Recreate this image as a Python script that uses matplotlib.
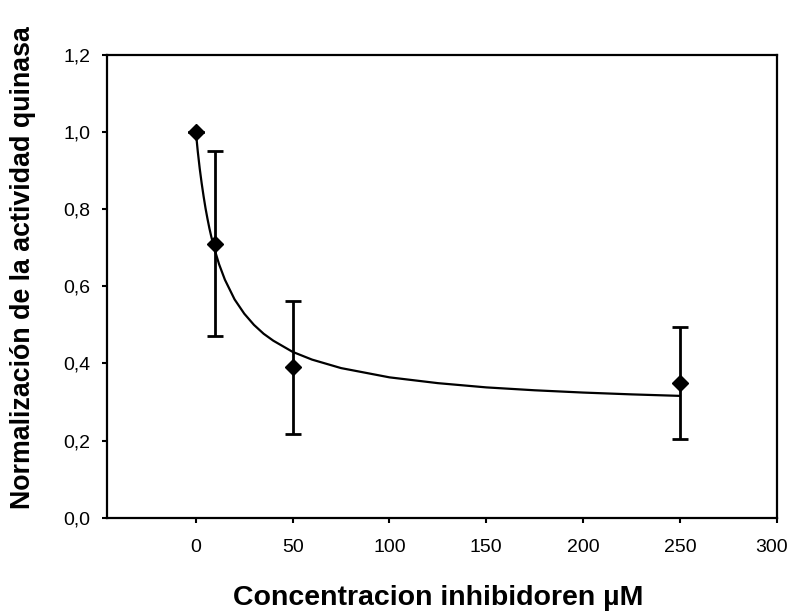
import matplotlib.pyplot as plt
import matplotlib.transforms as mtransforms
from matplotlib.ticker import FuncFormatter

plt.rcParams['font.family'] = ['Liberation Sans', 'DejaVu Sans']

# measured points (concentration in uM)
conc = [0, 10, 50, 250]
activity = [1.0, 0.71, 0.39, 0.35]
error = [0.0, 0.24, 0.172, 0.145]

# fitted curve
curve_x = [0, 1, 2, 3, 4, 5, 6, 7, 8, 10, 12, 15, 20, 25, 30, 35, 40, 50, 60,
           75, 100, 125, 150, 175, 200, 225, 250]
curve_y = [1.0, 0.949, 0.905, 0.867, 0.833, 0.802, 0.775, 0.750, 0.728, 0.69,
           0.657, 0.617, 0.566, 0.529, 0.50, 0.477, 0.459, 0.43, 0.41, 0.388,
           0.364, 0.349, 0.338, 0.3305, 0.3246, 0.3199, 0.316]

xticks = [0, 50, 100, 150, 200, 250, 300]
yticks = [0.0, 0.2, 0.4, 0.6, 0.8, 1.0, 1.2]

fig = plt.figure(figsize=(7.91, 6.15), dpi=100)
ax = fig.add_axes([0.135, 0.158, 0.847, 0.753])

ax.plot(curve_x, curve_y, color='black', lw=1.6, zorder=2)
ax.errorbar(conc, activity, yerr=error, fmt='D', color='black', ms=8,
            ecolor='black', elinewidth=2, capsize=6, capthick=2, zorder=3)

ax.set_xlim(-46, 300)
ax.set_ylim(0, 1.2)
ax.set_xticks(xticks)
ax.set_yticks(yticks)
ax.yaxis.set_major_formatter(FuncFormatter(lambda v, p: f"{v:.1f}".replace('.', ',')))
ax.tick_params(direction='out', length=3.5, width=1.5, labelsize=14)
ax.tick_params(axis='x', pad=12)
ax.tick_params(axis='y', pad=8.5)

# last x label sits at the very edge, nudge it left a little
last = ax.get_xticklabels()[-1]
last.set_transform(last.get_transform() +
                   mtransforms.ScaledTranslation(-4 / 72, 0, fig.dpi_scale_trans))

for s in ax.spines.values():
    s.set_linewidth(1.6)

ax.set_xlabel("Concentracion inhibidoren µM", fontsize=20.5, fontweight='bold')
ax.xaxis.set_label_coords(0.495, -0.145)
ax.set_ylabel("Normalización de la actividad quinasa", fontsize=19.3, fontweight='bold')
ax.yaxis.set_label_coords(-0.106, 0.54)

fig.savefig('out.png', dpi=100)
